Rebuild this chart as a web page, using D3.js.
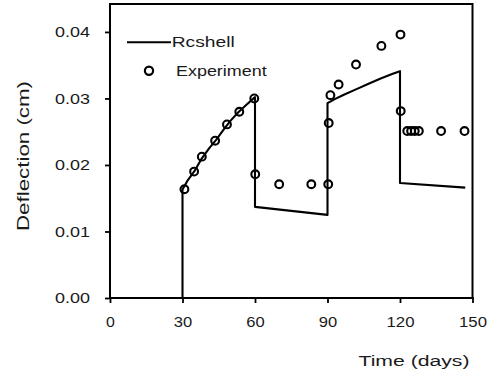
<!DOCTYPE html>
<html>
<head>
<meta charset="utf-8">
<script src="https://cdn.jsdelivr.net/npm/d3@7"></script>
<style>
  html, body { margin: 0; padding: 0; background: #fff; }
  svg { display: block; }
  text { font-family: "Liberation Sans", Arial, Helvetica, sans-serif; fill: #1a1a1a; font-weight: normal; }
</style>
</head>
<body>
<svg id="chart" width="496" height="373"></svg>
<script>
// ---- data ----
const xTicks = [0, 30, 60, 90, 120, 150];
const yTicks = [0.00, 0.01, 0.02, 0.03, 0.04];

// Rcshell model line
const lineDays = [30, 30, 32, 35, 38, 41, 44, 47, 50, 53, 56, 60, 60, 90, 90, 93, 97, 102, 107, 112, 117, 120, 120, 147];
const lineVals = [0, 0.0163, 0.0176, 0.0191, 0.0210, 0.0225, 0.0238, 0.0253, 0.0267, 0.0279, 0.0289, 0.0302,
                  0.0137, 0.0125, 0.0293, 0.0299, 0.0306, 0.0314, 0.0322, 0.0330, 0.0337, 0.0341, 0.0173, 0.0166];

// Experiment points
const expDays = [30.8, 34.8, 38.0, 43.5, 48.4, 53.5, 59.7, 60.1, 70.0, 83.3, 90.3, 90.5, 91.2, 94.6,
                 101.8, 112.3, 120.2, 120.3, 123.0, 124.6, 126.1, 127.8, 137.0, 146.7];
const expVals = [0.01635, 0.0190, 0.02125, 0.02365, 0.0261, 0.0280, 0.0300, 0.0186, 0.0171, 0.0171, 0.0171,
                 0.0263, 0.0305, 0.0321, 0.0351, 0.0379, 0.0396, 0.0281, 0.0251, 0.0251, 0.0251, 0.0251,
                 0.0251, 0.0251];

const seriesNames = ["Rcshell", "Experiment"];
const xTitle = "Time (days)";
const yTitle = "Deflection (cm)";

// ---- layout ----
const svg = d3.select("#chart");
const pLeft = 110, pRight = 472.5, pTop = 4, pBottom = 298;
const x = d3.scaleLinear().domain([0, 150]).range([pLeft, pRight]);
const y = d3.scaleLinear().domain([0, 0.0442]).range([pBottom, pTop]);

function stretch(sel, w) {
  sel.attr("textLength", w).attr("lengthAdjust", "spacingAndGlyphs");
}

// frame
svg.append("rect")
  .attr("x", pLeft).attr("y", pTop)
  .attr("width", pRight - pLeft).attr("height", pBottom - pTop)
  .attr("fill", "none").attr("stroke", "#000").attr("stroke-width", 2);

// x axis
const gx = svg.append("g").attr("transform", `translate(0,${pBottom})`)
  .call(d3.axisBottom(x).tickValues(xTicks).tickSize(5).tickSizeOuter(0).tickPadding(13.5).tickFormat(d3.format("d")));
gx.select(".domain").remove();
gx.selectAll(".tick line").attr("stroke", "#000").attr("stroke-width", 1.8).attr("y1", -1);
gx.selectAll(".tick text").style("font-size", "15px").attr("fill", "#1a1a1a")
  .each(function() { const t = d3.select(this); const w = this.textContent.length * 9.6 - 0.8; stretch(t, w); });

// y axis
const gy = svg.append("g").attr("transform", `translate(${pLeft},0)`)
  .call(d3.axisLeft(y).tickValues(yTicks).tickSize(5).tickSizeOuter(0).tickPadding(15).tickFormat(d3.format(".2f")));
gy.select(".domain").remove();
gy.selectAll(".tick line").attr("stroke", "#000").attr("stroke-width", 1.8);
gy.selectAll(".tick text").style("font-size", "14.5px").attr("fill", "#1a1a1a")
  .each(function() { stretch(d3.select(this), 35); });

// axis titles
svg.append("text")
  .attr("transform", "translate(29,156) rotate(-90)")
  .attr("text-anchor", "middle")
  .style("font-size", "16px")
  .text(yTitle)
  .call(stretch, 150);

svg.append("text")
  .attr("x", 358.5).attr("y", 366)
  .style("font-size", "15.5px")
  .text(xTitle)
  .call(stretch, 111);

// model line
const lineData = lineDays.map((d, i) => [d, lineVals[i]]);
svg.append("path")
  .datum(lineData)
  .attr("fill", "none").attr("stroke", "#000").attr("stroke-width", 2.1)
  .attr("stroke-linejoin", "round")
  .attr("d", d3.line().x(d => x(d[0])).y(d => y(d[1])));

// experiment points
const expData = expDays.map((d, i) => [d, expVals[i]]);
svg.append("g").selectAll("circle")
  .data(expData).join("circle")
  .attr("cx", d => x(d[0])).attr("cy", d => y(d[1]))
  .attr("r", 3.9)
  .attr("fill", "none").attr("stroke", "#000").attr("stroke-width", 2.1);

// legend
const lg = svg.append("g");
lg.append("line").attr("x1", 127).attr("x2", 171).attr("y1", 42.3).attr("y2", 42.3)
  .attr("stroke", "#000").attr("stroke-width", 2.1);
lg.append("text").attr("x", 171.7).attr("y", 47.3).style("font-size", "15.5px")
  .text(seriesNames[0]).call(stretch, 63);
lg.append("circle").attr("cx", 149).attr("cy", 70.7).attr("r", 4.1)
  .attr("fill", "none").attr("stroke", "#000").attr("stroke-width", 2.2);
lg.append("text").attr("x", 176).attr("y", 76).style("font-size", "15.5px")
  .text(seriesNames[1]).call(stretch, 90.7);
</script>
</body>
</html>
